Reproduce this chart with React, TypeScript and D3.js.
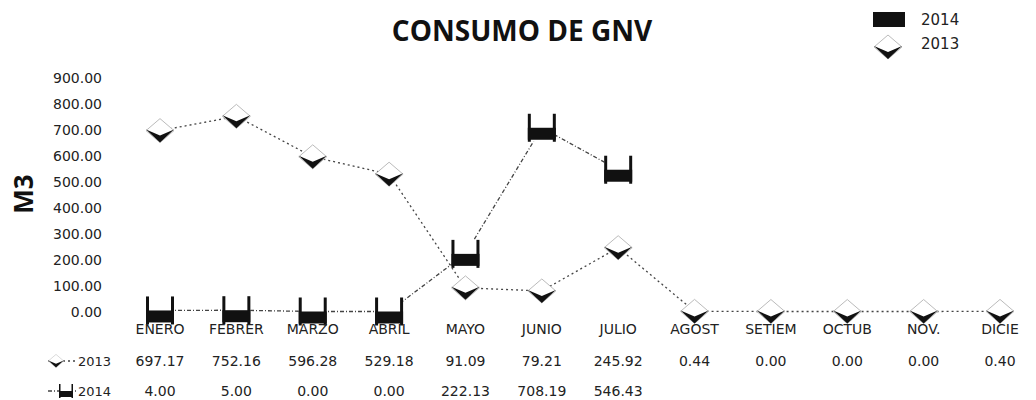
import * as d3 from 'd3';

const months = ['ENERO', 'FEBRER', 'MARZO', 'ABRIL', 'MAYO', 'JUNIO', 'JULIO', 'AGOST', 'SETIEM', 'OCTUB', 'NOV.', 'DICIE'];
const values2013: (number | null)[] = [697.17, 752.16, 596.28, 529.18, 91.09, 79.21, 245.92, 0.44, 0.0, 0.0, 0.0, 0.4];
const values2014: (number | null)[] = [4.0, 5.0, 0.0, 0.0, 222.13, 708.19, 546.43, null, null, null, null, null];
const yTicks = [0, 100, 200, 300, 400, 500, 600, 700, 800, 900];

const W = 1036;
const H = 400;
const font = '"DejaVu Sans", sans-serif';

const x = d3.scalePoint<string>().domain(months).range([160, 1000]);
const y = d3.scaleLinear().domain([0, 900]).range([311.5, 78]);

type Pt = { m: string; v: number | null };
const toPts = (vals: (number | null)[]): Pt[] => months.map((m, i) => ({ m, v: vals[i] }));

const line = d3
    .line<Pt>()
    .defined((d) => d.v !== null)
    .x((d) => x(d.m) ?? 0)
    .y((d) => y(d.v ?? 0));

function Diamond({ cx, cy, s = 1 }: { cx: number; cy: number; s?: number }) {
    return (
        <g transform={`translate(${cx},${cy}) scale(${s})`}>
            <polygon points="-14,0 0,-12 14,0 0,12" fill="#fff" stroke="#bbb" strokeWidth={1} />
            <polygon points="-14,-1 0,12 14,-1 0,5" fill="#111" />
        </g>
    );
}

function Cup({ cx, cy, s = 1 }: { cx: number; cy: number; s?: number }) {
    return (
        <g transform={`translate(${cx},${cy}) scale(${s})`}>
            <rect x={-14} y={-14} width={28} height={28} fill="#fff" />
            <rect x={-14} y={-14} width={3} height={28} fill="#111" />
            <rect x={11} y={-14} width={3} height={28} fill="#111" />
            <rect x={-14} y={0} width={28} height={12} fill="#111" />
        </g>
    );
}

export default function App() {
    const pts2013 = toPts(values2013);
    const pts2014 = toPts(values2014);
    const fmt = d3.format('.2f');

    return (
        <svg
            width={W}
            height={H}
            viewBox={`0 0 ${W} ${H}`}
            style={{ position: 'absolute', left: 0, top: 0, background: '#fff' }}
        >
            <text
                x={522}
                y={41}
                textAnchor="middle"
                fontFamily='"Open Sans", sans-serif'
                fontWeight={700}
                fontSize={28}
                fill="#111"
            >
                CONSUMO DE GNV
            </text>

            {/* legend */}
            <rect x={873} y={12} width={32} height={15} fill="#111" />
            <text x={921} y={25} fontFamily={font} fontSize={15} fill="#222">2014</text>
            <Diamond cx={888} cy={47} />
            <text x={921} y={49} fontFamily={font} fontSize={15} fill="#222">2013</text>

            {/* y axis */}
            <text
                transform="translate(23,194) rotate(-90)"
                textAnchor="middle"
                dominantBaseline="central"
                fontFamily='"Open Sans", sans-serif'
                fontWeight={700}
                fontSize={26}
                fill="#111"
            >
                M3
            </text>
            {yTicks.map((t) => (
                <text
                    key={t}
                    x={102}
                    y={y(t)}
                    textAnchor="end"
                    dominantBaseline="central"
                    fontFamily={font}
                    fontSize={14}
                    fill="#222"
                >
                    {fmt(t)}
                </text>
            ))}

            {/* series lines */}
            <path d={line(pts2013) ?? ''} fill="none" stroke="#444" strokeWidth={1.3} strokeDasharray="2 3" />
            <path d={line(pts2014) ?? ''} fill="none" stroke="#444" strokeWidth={1.3} strokeDasharray="4 2 1 2" />

            {pts2014
                .filter((d) => d.v !== null)
                .map((d) => (
                    <Cup key={'c' + d.m} cx={x(d.m) ?? 0} cy={y(d.v ?? 0)} />
                ))}
            {pts2013
                .filter((d) => d.v !== null)
                .map((d) => (
                    <Diamond key={'d' + d.m} cx={x(d.m) ?? 0} cy={y(d.v ?? 0)} />
                ))}

            {/* category labels */}
            {months.map((m) => (
                <text
                    key={m}
                    x={x(m)}
                    y={329}
                    textAnchor="middle"
                    dominantBaseline="central"
                    fontFamily={font}
                    fontSize={14}
                    fill="#222"
                >
                    {m}
                </text>
            ))}

            {/* data table */}
            <g>
                <line x1={48} x2={76} y1={361} y2={361} stroke="#444" strokeWidth={1.3} strokeDasharray="2 3" />
                <Diamond cx={56} cy={361} s={0.55} />
                <text x={78} y={361} dominantBaseline="central" fontFamily={font} fontSize={13} fill="#222">2013</text>
                <line x1={48} x2={76} y1={391} y2={391} stroke="#444" strokeWidth={1.3} strokeDasharray="4 2 1 2" />
                <Cup cx={66} cy={391} s={0.5} />
                <text x={78} y={391} dominantBaseline="central" fontFamily={font} fontSize={13} fill="#222">2014</text>
                {pts2013.map((d) =>
                    d.v === null ? null : (
                        <text
                            key={'t13' + d.m}
                            x={x(d.m)}
                            y={361}
                            textAnchor="middle"
                            dominantBaseline="central"
                            fontFamily={font}
                            fontSize={14}
                            fill="#222"
                        >
                            {fmt(d.v)}
                        </text>
                    )
                )}
                {pts2014.map((d) =>
                    d.v === null ? null : (
                        <text
                            key={'t14' + d.m}
                            x={x(d.m)}
                            y={391}
                            textAnchor="middle"
                            dominantBaseline="central"
                            fontFamily={font}
                            fontSize={14}
                            fill="#222"
                        >
                            {fmt(d.v)}
                        </text>
                    )
                )}
            </g>
        </svg>
    );
}
